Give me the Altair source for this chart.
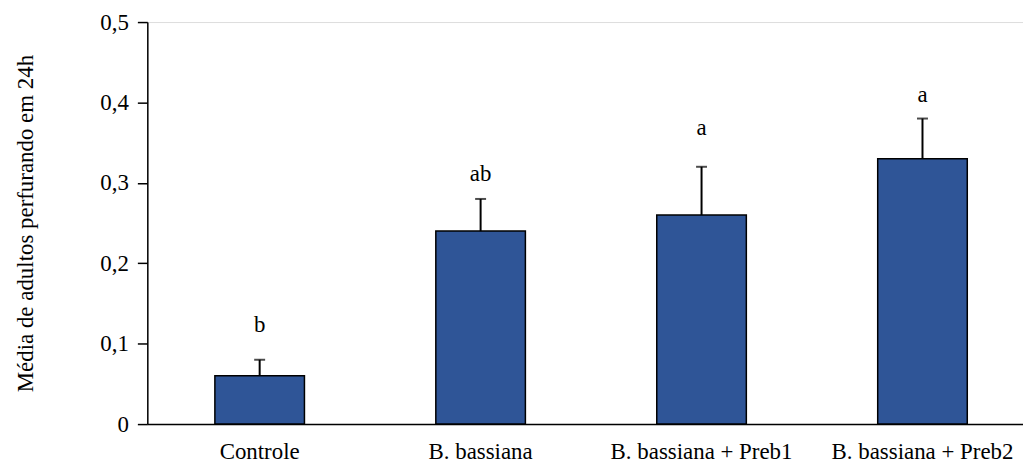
import altair as alt
import pandas as pd

categories = ["Controle", "B. bassiana", "B. bassiana + Preb1", "B. bassiana + Preb2"]
means = [0.06, 0.24, 0.26, 0.33]
upper = [0.08, 0.28, 0.32, 0.38]
letters = ["b", "ab", "a", "a"]
letter_y = [0.115, 0.302, 0.36, 0.40]

df = pd.DataFrame({
    "cat": categories,
    "mean": means,
    "upper": upper,
    "letter": letters,
    "ly": letter_y,
})

FONT = "Liberation Serif"

x = alt.X(
    "cat:N",
    sort=categories,
    title=None,
    scale=alt.Scale(paddingInner=0.5946, paddingOuter=0.279, align=0.548, round=False),
    axis=alt.Axis(
        labelAngle=0, ticks=False, labelFont=FONT, labelFontSize=23, labelColor="black",
        labelPadding=17, domainColor="black", domainWidth=1.5, labelBaseline="top",
        labelLimit=400, labelOverlap=False,
    ),
)
yscale = alt.Scale(domain=[0, 0.5], nice=False, zero=True)

base = alt.Chart(df)

bars = base.mark_bar(color="#2F5597", stroke="black", strokeWidth=1.5).encode(
    x=x,
    y=alt.Y(
        "mean:Q",
        scale=yscale,
        title="Média de adultos perfurando em 24h",
        axis=alt.Axis(
            values=[0, 0.1, 0.2, 0.3, 0.4, 0.5],
            labelExpr="replace(format(datum.value, '.1~f'), '.', ',')",
            grid=False, tickSize=10, tickColor="black", tickWidth=1.5,
            domainColor="black", domainWidth=1.5,
            labelFont=FONT, labelFontSize=23, labelColor="black", labelPadding=9,
            titleFont=FONT, titleFontSize=23, titleFontWeight="normal", titleColor="black",
            titlePadding=63,
        ),
    ),
)

err = base.mark_rule(color="black", strokeWidth=2).encode(
    x=alt.X("cat:N", sort=categories),
    y="mean:Q",
    y2="upper:Q",
)

caps = base.mark_tick(color="black", orient="horizontal", size=11, thickness=2).encode(
    x=alt.X("cat:N", sort=categories),
    y="upper:Q",
)

text = base.mark_text(font=FONT, fontSize=23, color="black", baseline="alphabetic").encode(
    x=alt.X("cat:N", sort=categories),
    y="ly:Q",
    text="letter:N",
)

chart = alt.layer(bars, err, caps, text).properties(
    width=880,
    height=404,
    autosize=alt.AutoSizeParams(type="none"),
    padding={"left": 140, "top": 13, "right": 0, "bottom": 41},
).configure_view(stroke=None).configure(background="white")

chart.save("out.html", embed_options={"renderer": "svg", "actions": False})
